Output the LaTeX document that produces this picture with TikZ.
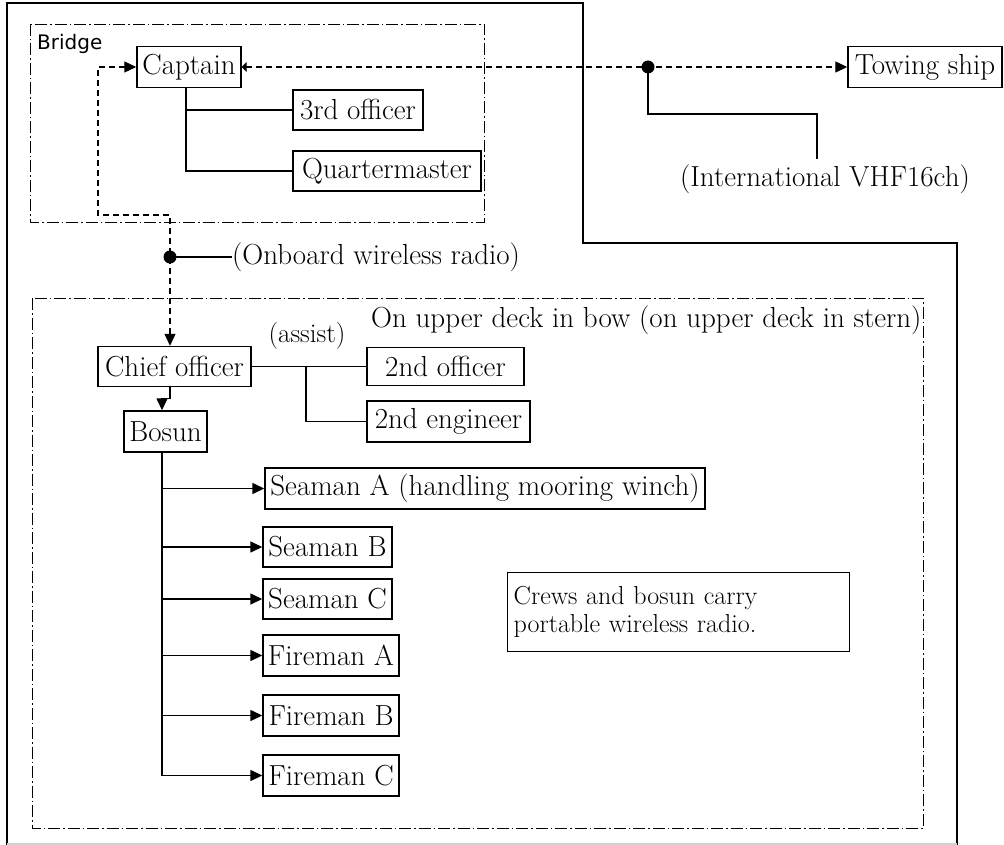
\documentclass[tikz,border=0pt]{standalone}
\usepackage{fontspec}
\newfontfamily\labelsans{DejaVu Sans}
\usetikzlibrary{arrows.meta}
\begin{document}
\begin{tikzpicture}[x=1pt,y=-1pt,
  every node/.style={inner sep=0pt, font=\fontsize{29}{32}\selectfont},
  role/.style={draw, line width=1.4pt},
  zone/.style={line width=0.9pt, dash pattern=on 12pt off 3pt on 1.5pt off 3pt},
  hull/.style={line width=2pt},
  link/.style={line width=1.4pt},
  radio/.style={line width=1.2pt, dash pattern=on 6pt off 4pt},
  tip/.style={-{Triangle[length=12pt,width=11pt]}},
  junction/.style={circle, fill, minimum size=13pt},
]
\useasboundingbox (0,0) rectangle (1004,845);

% ship outline
\draw[hull] (7,845) -- (7,3) -- (583,3) -- (583,243) -- (957,243) -- (957,845);
\draw[gray!35, line width=1.5pt] (7,844) -- (957,844);

% working areas
\draw[zone] (30,24) rectangle (484,222);
\draw[zone] (32,298) rectangle (923,828);

\node[anchor=base west, font=\labelsans\fontsize{20}{24}\selectfont] (bridgelbl) at (37,50) {Bridge};
\node[anchor=base west] (decklbl) at (371,327) {On upper deck in bow (on upper deck in stern)};

% bridge team
\node[role, minimum width=104pt, minimum height=41pt] (captain) at (189,67) {Captain};
\node[role, minimum width=130pt, minimum height=40pt] (third) at (358,110) {3rd officer};
\node[role, minimum width=188pt, minimum height=40pt] (qm) at (387,171) {Quartermaster};

% towing ship
\node[role, minimum width=154pt, minimum height=41pt] (tow) at (925,67) {Towing ship};

% deck team
\node[role, minimum width=153pt, minimum height=40pt] (chief) at (174.5,366.5) {Chief officer};
\node[role, minimum width=157pt, minimum height=38pt] (sec) at (445.5,366.5) {2nd officer};
\node[role, minimum width=163pt, minimum height=41pt] (eng) at (448.5,421.5) {2nd engineer};
\node[role, minimum width=83pt, minimum height=41pt] (bosun) at (165.5,431.5) {Bosun};
\node[role, minimum width=440pt, minimum height=41pt] (sa) at (485,488.5) {Seaman A (handling mooring winch)};
\node[role, minimum width=129pt, minimum height=40pt] (sb) at (327.5,547) {Seaman B};
\node[role, minimum width=129pt, minimum height=40pt] (sc) at (327.5,599) {Seaman C};
\node[role, minimum width=136pt, minimum height=41pt] (fa) at (331,655.5) {Fireman A};
\node[role, minimum width=136pt, minimum height=41pt] (fb) at (331,715.5) {Fireman B};
\node[role, minimum width=136pt, minimum height=41pt] (fc) at (331,775.5) {Fireman C};

\node[anchor=base, font=\fontsize{27}{30}\selectfont] (assist) at (307,342) {(assist)};

\node[draw, line width=1.4pt, anchor=north west, minimum width=342pt, minimum height=79pt,
      text width=330pt, inner xsep=6pt, align=left, font=\fontsize{26}{28}\selectfont]
      (crews) at (507,572) {Crews and bosun carry\\portable wireless radio.};

% bridge hierarchy
\coordinate (ctrunk) at ([xshift=-3pt]captain.south);
\draw[link] (ctrunk) |- (qm.west);
\draw[link] (ctrunk |- third.west) -- (third.west);

% radio links
\coordinate (loopL) at (98,215);
\coordinate (loopR) at (170,215);
\draw[radio, {Triangle[length=12pt,width=11pt]}-{Triangle[length=12pt,width=11pt]}]
  (captain.west) -| (loopL) -- (loopR) -- (loopR |- chief.north);
\draw[radio, {Triangle[length=5pt,width=10pt]}-{Triangle[length=12pt,width=11pt]}]
  (captain.east) -- (tow.west);

\node[junction] (vhfdot) at (648,67) {};
\coordinate (vhfbend) at (648,114);
\coordinate (vhfend) at (817,159);
\draw[link] (vhfdot.center) -- (vhfbend) -| (vhfend);
\node[anchor=base] (vhf) at (825,187) {(International VHF16ch)};

\node[junction] (obdot) at (170,257) {};
\node[anchor=west] (obtext) at (232,257) {(Onboard wireless radio)};
\draw[link] (obdot.center) -- (obtext.west);

% deck hierarchy
\coordinate (asplit) at (306,0);
\draw[link] (chief.east) -- (sec.west);
\draw[link] (asplit |- chief.east) |- (eng.west);
\draw[link, tip] ([xshift=-4.5pt]chief.south) -- ++(0,11) -| ([xshift=-3.5pt]bosun.north);

\coordinate (btrunk) at ([xshift=-3.5pt]bosun.south);
\draw[link, tip] (btrunk) |- (fc.west);
\draw[link, tip] (btrunk |- sa.west) -- (sa.west);
\draw[link, tip] (btrunk |- sb.west) -- (sb.west);
\draw[link, tip] (btrunk |- sc.west) -- (sc.west);
\draw[link, tip] (btrunk |- fa.west) -- (fa.west);
\draw[link, tip] (btrunk |- fb.west) -- (fb.west);
\end{tikzpicture}
\end{document}
